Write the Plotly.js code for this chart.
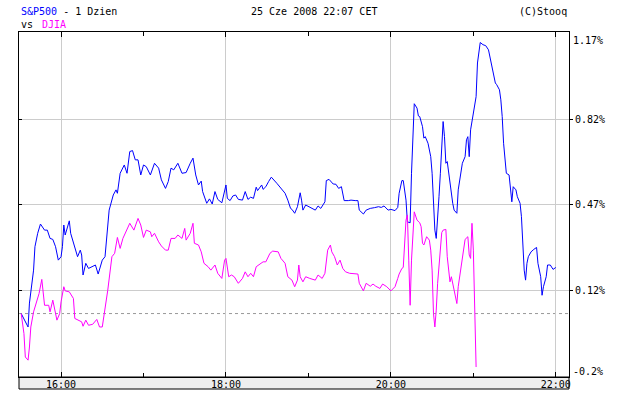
<!DOCTYPE html>
<html><head><meta charset="utf-8">
<script src="https://cdn.plot.ly/plotly-3.0.1.min.js"></script>
<style>html,body{margin:0;padding:0;background:#fff;} #chart{width:624px;height:411px;}</style>
</head><body><div id="chart"></div>
<script>
const sp500Times = ["15:31","15:36","15:37","15:40","15:41","15:43","15:45","15:48","15:50","15:52","15:54","15:56","15:58","16:00","16:01","16:02","16:03","16:04","16:06","16:07","16:09","16:11","16:12","16:14","16:15","16:16","16:18","16:20","16:22","16:25","16:27","16:30","16:32","16:33","16:35","16:38","16:40","16:41","16:43","16:46","16:48","16:50","16:52","16:54","16:56","16:58","17:00","17:02","17:05","17:08","17:11","17:13","17:16","17:18","17:20","17:22","17:25","17:28","17:31","17:34","17:36","17:38","17:40","17:42","17:43","17:46","17:48","17:50","17:52","17:54","17:57","18:00","18:01","18:03","18:05","18:07","18:09","18:12","18:14","18:16","18:18","18:20","18:22","18:23","18:26","18:27","18:29","18:31","18:33","18:37","18:40","18:43","18:45","18:47","18:48","18:50","18:52","18:54","18:55","18:56","18:58","19:01","19:05","19:07","19:09","19:12","19:13","19:15","19:18","19:20","19:22","19:24","19:26","19:29","19:31","19:34","19:36","19:37","19:40","19:42","19:45","19:48","19:51","19:53","19:55","19:58","20:00","20:03","20:05","20:06","20:08","20:09","20:11","20:12","20:14","20:15","20:16","20:17","20:19","20:20","20:21","20:23","20:24","20:25","20:27","20:28","20:29","20:30","20:31","20:32","20:33","20:34","20:35","20:36","20:37","20:38","20:39","20:40","20:41","20:42","20:43","20:45","20:46","20:48","20:49","20:51","20:52","20:54","20:55","20:56","20:57","20:58","21:00","21:02","21:03","21:05","21:07","21:09","21:11","21:12","21:14","21:16","21:17","21:19","21:20","21:21","21:22","21:23","21:24","21:26","21:27","21:28","21:29","21:31","21:32","21:34","21:35","21:36","21:37","21:38","21:39","21:40","21:42","21:44","21:46","21:47","21:49","21:50","21:51","21:53","21:54","21:56","21:57","21:58","22:00"];
const sp500Values = [0.024,-0.031,0.067,0.202,0.298,0.353,0.391,0.366,0.366,0.332,0.328,0.298,0.243,0.257,0.298,0.387,0.346,0.366,0.404,0.353,0.312,0.277,0.257,0.284,0.264,0.182,0.230,0.209,0.216,0.223,0.186,0.243,0.257,0.325,0.448,0.510,0.531,0.517,0.599,0.633,0.599,0.688,0.692,0.654,0.654,0.592,0.633,0.626,0.592,0.640,0.620,0.572,0.537,0.565,0.620,0.613,0.640,0.599,0.602,0.640,0.661,0.592,0.551,0.567,0.524,0.476,0.494,0.473,0.524,0.492,0.478,0.551,0.496,0.487,0.506,0.510,0.492,0.489,0.524,0.492,0.501,0.496,0.542,0.528,0.551,0.533,0.544,0.565,0.583,0.558,0.537,0.517,0.489,0.455,0.451,0.435,0.462,0.519,0.489,0.448,0.469,0.459,0.448,0.465,0.455,0.482,0.569,0.574,0.555,0.554,0.537,0.544,0.487,0.487,0.489,0.487,0.487,0.448,0.432,0.448,0.455,0.458,0.462,0.459,0.465,0.448,0.451,0.446,0.459,0.517,0.569,0.569,0.489,0.400,0.396,0.599,0.777,0.884,0.866,0.834,0.831,0.790,0.743,0.749,0.722,0.688,0.667,0.599,0.476,0.366,0.332,0.448,0.503,0.599,0.708,0.811,0.749,0.640,0.647,0.606,0.544,0.476,0.448,0.435,0.531,0.599,0.640,0.667,0.736,0.749,0.667,0.777,0.845,0.913,1.051,1.135,1.126,1.122,1.105,1.078,1.037,0.969,0.962,0.941,0.900,0.831,0.722,0.640,0.599,0.592,0.544,0.482,0.544,0.531,0.503,0.476,0.421,0.325,0.202,0.161,0.230,0.257,0.277,0.287,0.295,0.230,0.175,0.099,0.134,0.175,0.223,0.223,0.216,0.205,0.213];

const djiaTimes = ["15:31","15:33","15:34","15:36","15:37","15:38","15:40","15:42","15:44","15:46","15:47","15:48","15:51","15:52","15:54","15:55","15:57","15:59","16:00","16:02","16:03","16:06","16:09","16:10","16:13","16:15","16:16","16:18","16:20","16:23","16:26","16:28","16:30","16:32","16:34","16:37","16:39","16:41","16:43","16:45","16:48","16:50","16:53","16:56","16:58","17:00","17:02","17:05","17:06","17:08","17:11","17:13","17:16","17:18","17:20","17:23","17:25","17:28","17:30","17:31","17:34","17:36","17:37","17:40","17:42","17:44","17:47","17:49","17:52","17:54","17:57","17:59","18:00","18:02","18:04","18:06","18:09","18:12","18:14","18:16","18:18","18:20","18:22","18:25","18:27","18:29","18:32","18:34","18:38","18:40","18:43","18:45","18:48","18:50","18:52","18:53","18:54","18:56","18:58","19:01","19:05","19:07","19:10","19:12","19:14","19:16","19:17","19:19","19:21","19:23","19:25","19:27","19:30","19:36","19:37","19:40","19:42","19:45","19:47","19:49","19:52","19:54","19:57","20:00","20:03","20:05","20:06","20:08","20:09","20:11","20:12","20:13","20:14","20:15","20:16","20:17","20:19","20:21","20:22","20:23","20:24","20:26","20:28","20:29","20:30","20:31","20:32","20:33","20:34","20:35","20:36","20:37","20:38","20:40","20:41","20:42","20:43","20:44","20:46","20:48","20:49","20:51","20:53","20:54","20:56","20:57","20:58","20:59","21:00","21:01","21:02"];
const djiaValues = [0.024,-0.058,-0.154,-0.167,-0.113,-0.031,0.031,0.065,0.106,0.164,0.106,0.058,0.058,0.031,0.079,0.051,-0.003,0.024,0.072,0.134,0.117,0.113,0.086,0.004,-0.003,-0.010,-0.028,-0.003,-0.024,-0.020,0.000,-0.031,-0.031,0.038,0.120,0.257,0.271,0.336,0.291,0.332,0.373,0.394,0.366,0.414,0.387,0.336,0.366,0.359,0.339,0.353,0.318,0.301,0.284,0.284,0.332,0.332,0.346,0.332,0.373,0.325,0.353,0.394,0.312,0.305,0.277,0.230,0.216,0.202,0.223,0.189,0.168,0.243,0.250,0.175,0.182,0.175,0.148,0.168,0.195,0.175,0.189,0.175,0.216,0.230,0.236,0.236,0.271,0.280,0.277,0.250,0.230,0.175,0.161,0.134,0.161,0.223,0.175,0.154,0.175,0.168,0.161,0.182,0.168,0.189,0.284,0.305,0.277,0.257,0.223,0.243,0.209,0.195,0.189,0.186,0.148,0.117,0.148,0.136,0.145,0.136,0.127,0.145,0.134,0.117,0.134,0.168,0.186,0.209,0.213,0.407,0.428,0.243,0.058,0.243,0.366,0.441,0.407,0.396,0.380,0.312,0.305,0.339,0.325,0.284,0.202,0.024,-0.031,0.038,0.148,0.230,0.284,0.356,0.366,0.369,0.257,0.202,0.154,0.175,0.113,0.065,0.134,0.210,0.292,0.328,0.339,0.264,0.250,0.394,0.284,-0.044,-0.195];

const baselineValue = 0.024;
const xTickLabels = ["16:00","18:00","20:00","22:00"];
const xMinorTickLabels = ["17:00","19:00","21:00"];
const yTickValues = [0.82, 0.47, 0.12];
const yTickLabels = ["0.82%","0.47%","0.12%"];
const yEdgeValues = [1.17, -0.2];
const yEdgeLabels = ["1.17%","-0.2%"];
const headerLeft = "S&amp;P500";
const headerLeftRest = " - 1 Dzien";
const headerCompare = "DJIA";
const headerDate = "25 Cze 2008 22:07 CET";
const headerCopy = "(C)Stooq";

function toHours(t){ const p = t.split(":"); return +p[0] + (+p[1])/60; }

const FONT = "DejaVu Sans Mono";
const yRange = [-0.236, 1.178];

const traces = [
  {x: sp500Times.map(toHours), y: sp500Values, type:"scatter", mode:"lines",
   line:{color:"#0000ff", width:1}, hoverinfo:"skip", yaxis:"y"},
  {x: djiaTimes.map(toHours), y: djiaValues, type:"scatter", mode:"lines",
   line:{color:"#ff00ff", width:1}, hoverinfo:"skip", yaxis:"y2"}
];

const annotations = [
  {xref:"paper", yref:"paper", x:0, y:1.0588, xanchor:"left", yanchor:"middle", showarrow:false,
   text:'<span style="color:#0000ff">'+headerLeft+'</span>'+headerLeftRest, font:{family:FONT,size:10,color:"#000"}},
  {xref:"paper", yref:"paper", x:0, y:1.0223, xanchor:"left", yanchor:"middle", showarrow:false,
   text:"vs", font:{family:FONT,size:10,color:"#000"}},
  {xref:"paper", yref:"paper", x:0.0385, y:1.0223, xanchor:"left", yanchor:"middle", showarrow:false,
   text:headerCompare, font:{family:FONT,size:10,color:"#ff00ff"}},
  {xref:"paper", yref:"paper", x:0.5358, y:1.0588, xanchor:"center", yanchor:"middle", showarrow:false,
   text:headerDate, font:{family:FONT,size:10,color:"#000"}},
  {xref:"paper", yref:"paper", x:1, y:1.0588, xanchor:"right", yanchor:"middle", showarrow:false,
   text:headerCopy, font:{family:FONT,size:10,color:"#000"}},
  {xref:"paper", yref:"y", x:1, y:yEdgeValues[0], xanchor:"left", yanchor:"middle", xshift:2, yshift:-7, showarrow:false,
   text:yEdgeLabels[0], font:{family:FONT,size:10,color:"#000"}},
  {xref:"paper", yref:"y", x:1, y:yEdgeValues[1], xanchor:"left", yanchor:"middle", xshift:2, yshift:-3, showarrow:false,
   text:yEdgeLabels[1], font:{family:FONT,size:10,color:"#000"}}
];

const layout = {
  width:624, height:411,
  margin:{l:19, r:55, t:32, b:34, pad:0},
  paper_bgcolor:"#ffffff", plot_bgcolor:"#ffffff",
  showlegend:false,
  xaxis:{
    range:[15.49, 22.16], tickmode:"array",
    tickvals: xTickLabels.map(toHours), ticktext: xTickLabels,
    showgrid:true, gridcolor:"#cccccc", gridwidth:1, zeroline:false,
    showline:true, linecolor:"#000", linewidth:1, mirror:"ticks",
    ticks:"inside", ticklen:5, tickcolor:"#000", tickwidth:1,
    ticklabelstandoff:-2,
    tickfont:{family:FONT, size:10, color:"#000"},
    minor:{tickmode:"array", tickvals: xMinorTickLabels.map(toHours), ticks:"inside", ticklen:4, tickcolor:"#000", showgrid:false},
    fixedrange:true
  },
  yaxis:{
    range:yRange, side:"right", tickmode:"array",
    tickvals:yTickValues, ticktext:yTickLabels,
    showgrid:true, gridcolor:"#cccccc", gridwidth:1, zeroline:false,
    showline:true, linecolor:"#000", linewidth:1, mirror:true,
    ticks:"outside", ticklen:3, tickcolor:"#000",
    tickfont:{family:FONT, size:10, color:"#000"}, fixedrange:true
  },
  yaxis2:{
    range:yRange, overlaying:"y", side:"left", tickmode:"array",
    tickvals:yTickValues, showticklabels:false,
    showgrid:false, zeroline:false, showline:false,
    ticks:"inside", ticklen:3, tickcolor:"#000", fixedrange:true
  },
  shapes:[
    {type:"rect", xref:"paper", yref:"paper", x0:0, x1:1, y0:-0.0348, y1:0,
     fillcolor:"#eeeeee", line:{color:"#000", width:1}, layer:"below"},
    {type:"line", xref:"paper", yref:"y", x0:0, x1:1, y0:baselineValue, y1:baselineValue,
     line:{color:"#999999", width:1, dash:"3px,3px"}, layer:"below"}
  ],
  annotations: annotations
};

Plotly.newPlot("chart", traces, layout, {staticPlot:true, displayModeBar:false});
</script>
</body></html>
